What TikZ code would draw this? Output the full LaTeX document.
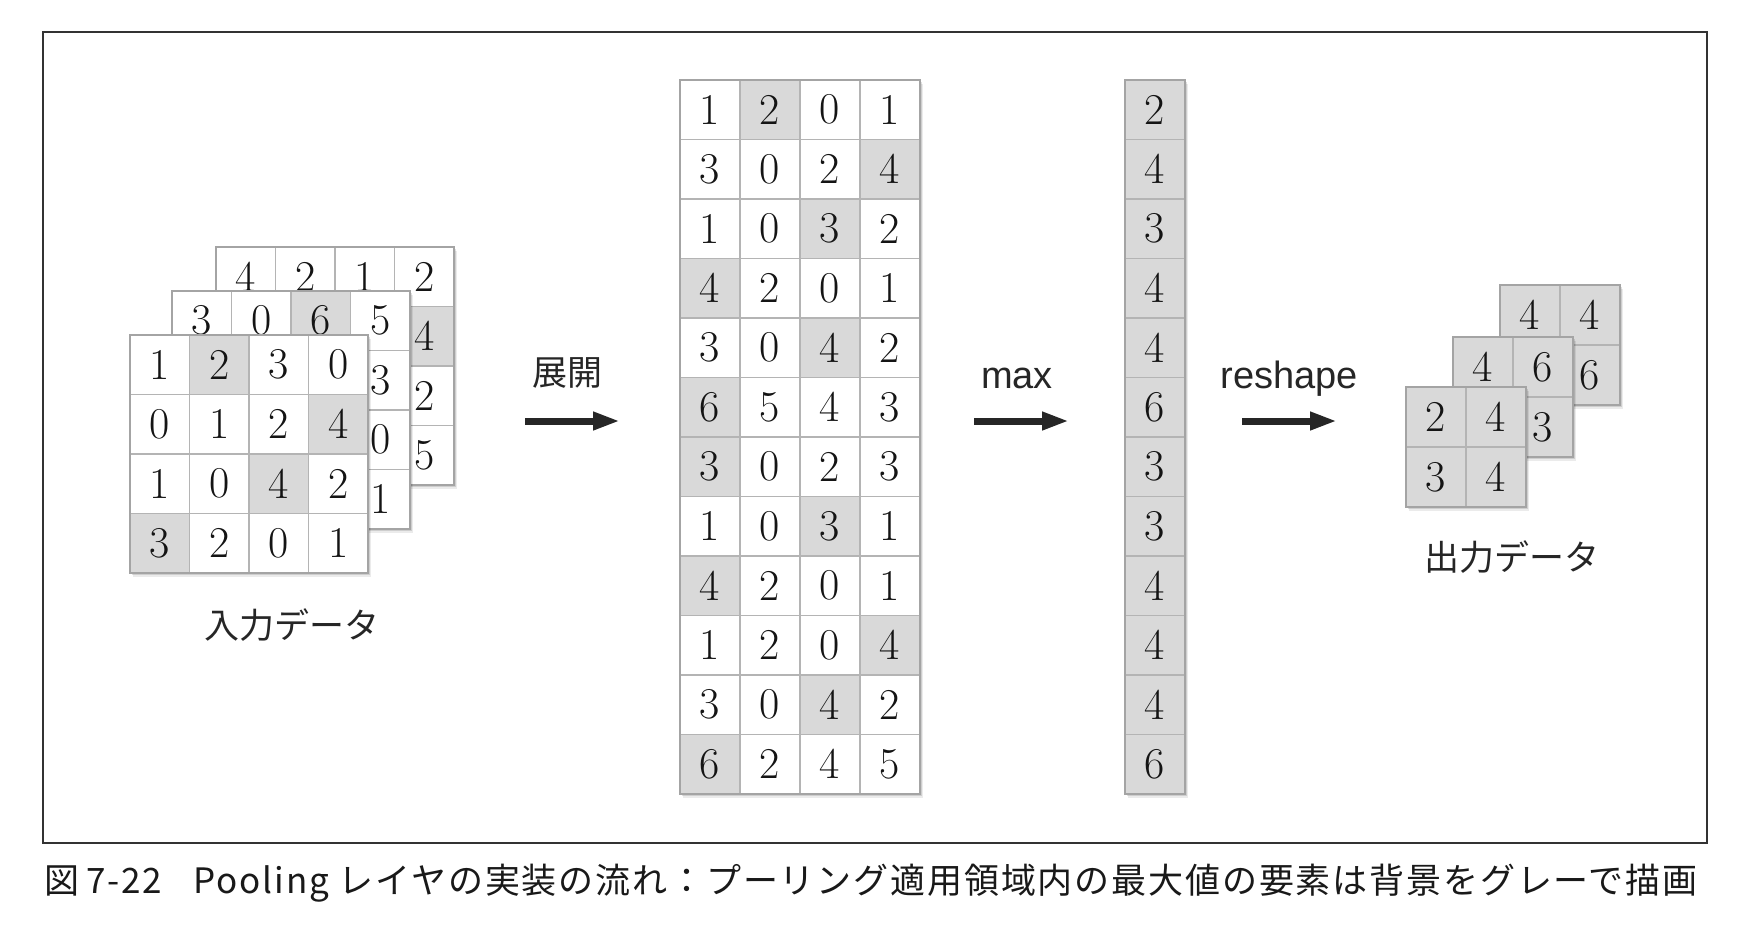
\documentclass[tikz,border=0pt]{standalone}
\usepackage{fontspec}
\newfontfamily\jpfont{Noto Sans CJK JP}
\newfontfamily\jpcapfont[LetterSpace=5.3]{Noto Sans CJK JP}
\newfontfamily\lsans{Liberation Sans}
\usetikzlibrary{arrows.meta}
\definecolor{cellgrey}{HTML}{D9D9D9}
\definecolor{cellline}{HTML}{B4B4B4}
\definecolor{gridedge}{HTML}{A4A4A4}
\definecolor{framecol}{HTML}{333333}
\definecolor{arrowcol}{HTML}{262626}
\def\e{}
\tikzset{
  cellbox/.style={draw=cellline, line width=1.2pt, inner sep=0pt, text=black!92,
    font=\fontsize{44}{44}\selectfont},
  jplabel/.style={inner sep=0pt, text=black!85, font=\jpfont\fontsize{35}{35}\selectfont},
  latlabel/.style={inner sep=0pt, text=black!85, font=\lsans\fontsize{38}{38}\selectfont},
  bigarrow/.style={draw=arrowcol, fill=arrowcol, line width=7pt, -{Triangle[length=27pt,width=17pt]}},
}
% #1 name, #2 x, #3 y (top left), #4 cell w, #5 cell h, #6 cols, #7 rows, #8 list v/g
\newcommand\mkgrid[8]{%
  \fill[black, opacity=0.08] ({#2+3},{#3+4}) rectangle ({#2+#6*#4+3},{#3+#7*#5+4});
  \fill[black, opacity=0.12] ({#2+1.5},{#3+2}) rectangle ({#2+#6*#4+1.5},{#3+#7*#5+2});
  \foreach \v/\g [count=\k from 0] in {#8}{%
    \pgfmathtruncatemacro\cc{mod(\k,#6)}%
    \pgfmathtruncatemacro\rr{floor(\k/#6)}%
    \ifnum\g=1 \def\fc{cellgrey}\else\def\fc{white}\fi
    \node[cellbox, fill=\fc, minimum width=#4pt, minimum height=#5pt]
      (#1-\k) at ({#2+(\cc+0.5)*#4},{#3+(\rr+0.5)*#5}) {\v};
  }%
  \draw[gridedge, line width=1.4pt] (#2,#3) rectangle ({#2+#6*#4},{#3+#7*#5});
}
\begin{document}
\begin{tikzpicture}[x=1pt, y=-1pt]
\useasboundingbox (0,0) rectangle (1752,934);
\fill[white] (0,0) rectangle (1752,934);
\draw[framecol, line width=2pt] (43,32) rectangle (1707,843);

% input data stack (cells hidden behind the front layers are left empty)
\mkgrid{inC}{216}{247}{59.5}{59.5}{4}{4}{4/0,2/0,1/0,2/0, \e/0,\e/0,\e/0,4/1, \e/0,\e/0,\e/0,2/0, \e/0,\e/0,\e/0,5/0}
\mkgrid{inB}{172}{291}{59.5}{59.5}{4}{4}{3/0,0/0,6/1,5/0, \e/0,\e/0,\e/0,3/0, \e/0,\e/0,\e/0,0/0, \e/0,\e/0,\e/0,1/0}
\mkgrid{inA}{130}{335}{59.5}{59.5}{4}{4}{1/0,2/1,3/0,0/0, 0/0,1/0,2/0,4/1, 1/0,0/0,4/1,2/0, 3/1,2/0,0/0,1/0}
\node[jplabel] (lblin) at (292,625) {入力データ};

% expanded matrix
\mkgrid{ex}{680}{80}{60}{59.5}{4}{12}{1/0,2/1,0/0,1/0, 3/0,0/0,2/0,4/1, 1/0,0/0,3/1,2/0, 4/1,2/0,0/0,1/0,
  3/0,0/0,4/1,2/0, 6/1,5/0,4/0,3/0, 3/1,0/0,2/0,3/0, 1/0,0/0,3/1,1/0,
  4/1,2/0,0/0,1/0, 1/0,2/0,0/0,4/1, 3/0,0/0,4/1,2/0, 6/1,2/0,4/0,5/0}

% max column
\mkgrid{mx}{1125}{80}{60}{59.5}{1}{12}{2/1,4/1,3/1,4/1,4/1,6/1,3/1,3/1,4/1,4/1,4/1,6/1}

% output data stack
\mkgrid{outC}{1500}{285}{60}{60}{2}{2}{4/1,4/1,\e/1,6/1}
\mkgrid{outB}{1453}{337}{60}{60}{2}{2}{4/1,6/1,\e/1,3/1}
\mkgrid{outA}{1406}{387}{60}{60}{2}{2}{2/1,4/1,3/1,4/1}
\node[jplabel] (lblout) at (1512,557) {出力データ};

% arrows and labels
\coordinate (a1s) at (525,421); \coordinate (a1e) at (620,421);
\coordinate (a2s) at (974,421); \coordinate (a2e) at (1069,421);
\coordinate (a3s) at (1242,421); \coordinate (a3e) at (1337,421);
\draw[bigarrow] (a1s) -- (a1e);
\draw[bigarrow] (a2s) -- (a2e);
\draw[bigarrow] (a3s) -- (a3e);
\node[jplabel] (lblexp) at (567,373) {展開};
\node[latlabel, anchor=base] (lblmax) at (1017,388) {max};
\node[latlabel, anchor=base] (lblrs) at (1289,388) {reshape};

% caption
\node[anchor=base west, inner sep=0pt, text=black!90, font=\jpcapfont\fontsize{35}{35}\selectfont]
  (cap) at (44,893) {図\hspace{0.2em}7-22\hspace{0.9em}Pooling レイヤの実装の流れ：プーリング適用領域内の最大値の要素は背景をグレーで描画};
\end{tikzpicture}
\end{document}
